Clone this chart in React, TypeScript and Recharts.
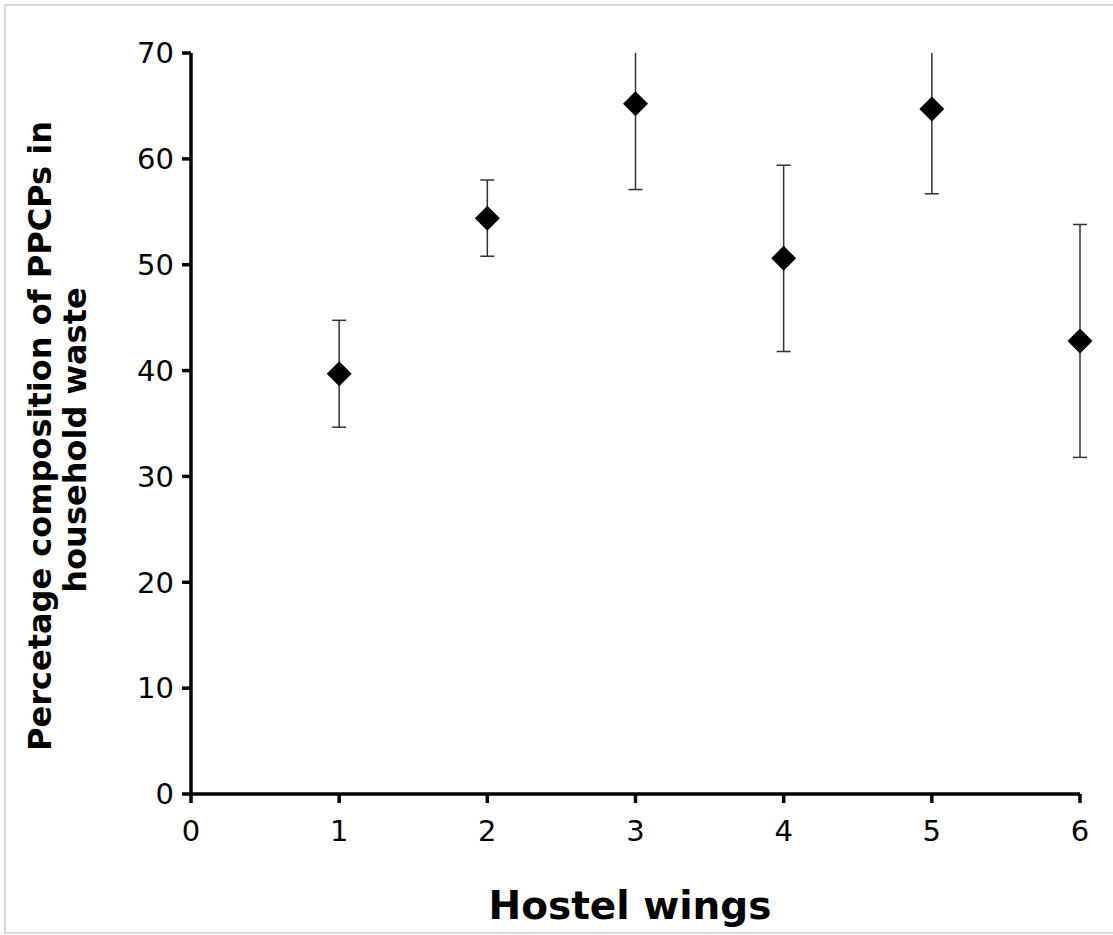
import {
  ScatterChart,
  Scatter,
  XAxis,
  YAxis,
  ErrorBar,
  Label,
} from 'recharts';

const wings = [1, 2, 3, 4, 5, 6];
const composition = [39.7, 54.4, 65.2, 50.6, 64.7, 42.8];
const errors = [5.05, 3.6, 8.1, 8.8, 8.0, 11.0];
const xTicks = [0, 1, 2, 3, 4, 5, 6];
const yTicks = [0, 10, 20, 30, 40, 50, 60, 70];

const FONT = '"DejaVu Sans", Verdana, sans-serif';

const chartData = wings.map((w, i) => ({
  wing: w,
  value: composition[i],
  err: errors[i],
}));

// square diamond marker, rotated 45deg
const Diamond = (props: any) => {
  const { cx, cy } = props;
  const r = 12.5;
  return (
    <polygon
      points={`${cx},${cy - r} ${cx + r},${cy} ${cx},${cy + r} ${cx - r},${cy}`}
      fill="#000"
    />
  );
};

const YTitle = () => (
  <g fontFamily={FONT} fontWeight="bold" fontSize={32} fill="#000">
    <text
      x={40}
      y={436}
      textAnchor="middle"
      dominantBaseline="central"
      transform="rotate(-90, 40, 436)"
    >
      Percetage composition of PPCPs in
    </text>
    <text
      x={75}
      y={440}
      textAnchor="middle"
      dominantBaseline="central"
      transform="rotate(-90, 75, 440)"
    >
      household waste
    </text>
  </g>
);

export default function App() {
  return (
    <div
      style={{
        position: 'absolute',
        left: 0,
        top: 0,
        width: 1113,
        height: 935,
        background: '#fff',
        overflow: 'hidden',
      }}
    >
      <div
        style={{
          position: 'absolute',
          left: 4,
          top: 4,
          width: 1120,
          height: 930,
          boxSizing: 'border-box',
          border: '2px solid #d9d9d9',
        }}
      />
      {/* clip region for the error bars (plot area) */}
      <svg width={0} height={0} style={{ position: 'absolute' }}>
        <defs>
          <clipPath id="plotAreaClip">
            <rect x={150} y={53} width={1000} height={741} />
          </clipPath>
        </defs>
      </svg>
      <div style={{ position: 'absolute', left: 0, top: 0 }}>
        <ScatterChart
          width={1113}
          height={935}
          margin={{ top: 53, right: 33, bottom: 0, left: 0 }}
        >
          <XAxis
            type="number"
            dataKey="wing"
            domain={[0, 6]}
            ticks={xTicks}
            interval={0}
            height={141}
            stroke="#000"
            strokeWidth={3.5}
            tickSize={9}
            tickMargin={17}
            tick={{ fill: '#000', fontSize: 29, fontFamily: FONT }}
          >
            <Label
              content={() => (
                <text
                  x={630}
                  y={905}
                  textAnchor="middle"
                  dominantBaseline="central"
                  fontFamily={FONT}
                  fontWeight="bold"
                  fontSize={39}
                  fill="#000"
                >
                  Hostel wings
                </text>
              )}
            />
          </XAxis>
          <YAxis
            type="number"
            dataKey="value"
            domain={[0, 70]}
            ticks={yTicks}
            interval={0}
            allowDataOverflow
            width={191}
            stroke="#000"
            strokeWidth={3.5}
            tickSize={9}
            tickMargin={8}
            tick={{ fill: '#000', fontSize: 29, fontFamily: FONT }}
          >
            <Label content={() => <YTitle />} />
          </YAxis>
          <Scatter
            data={chartData}
            shape={<Diamond />}
            isAnimationActive={false}
          >
            <ErrorBar
              dataKey="err"
              direction="y"
              width={7}
              stroke="#333"
              strokeWidth={1.5}
              clipPath="url(#plotAreaClip)"
            />
          </Scatter>
        </ScatterChart>
      </div>
    </div>
  );
}
